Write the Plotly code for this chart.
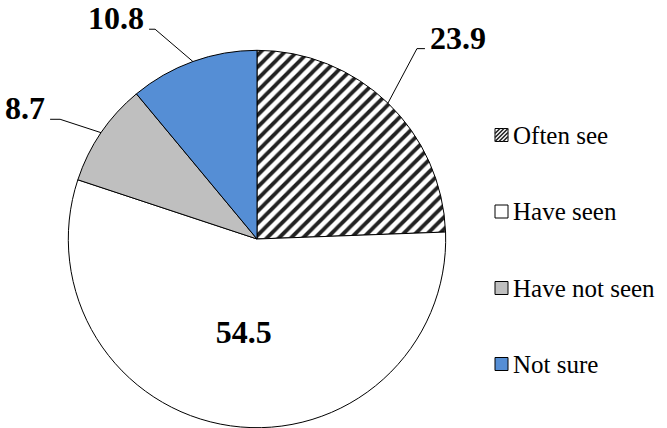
import math
import plotly.graph_objects as go

# ---- data ----
categories = ["Often see", "Have seen", "Have not seen", "Not sure"]
values = [23.9, 54.5, 8.7, 10.8]

# ---- style ----
colors = ["#ffffff", "#ffffff", "#bfbfbf", "#558ed5"]
patterns = ["/", "", "", ""]
FONT = "Times New Roman, Liberation Serif, DejaVu Serif, serif"

W, H = 667, 428
CX, CY, R = 257, 239, 188.7


def px(x):
    return x / W


def py(y):
    return 1 - y / H


fig = go.Figure(go.Pie(
    labels=categories, values=values, sort=False, direction="clockwise", rotation=0,
    marker=dict(colors=colors, line=dict(color="black", width=1),
                pattern=dict(shape=patterns, fgcolor="#222222", bgcolor="white",
                             size=8.5, solidity=0.45)),
    texttemplate=["", "<b>%{value}</b>", "", ""],
    textposition="inside", insidetextorientation="horizontal",
    textfont=dict(family=FONT, size=32, color="black"),
    domain=dict(x=[px(CX - R), px(CX + R)], y=[py(CY + R), py(CY - R)]),
    showlegend=False, hoverinfo="label+value",
))

# ---- outside labels with leader lines (positions derived from slice angles) ----
label_style = {
    "Often see": dict(elbow=(29, -54.5), seg=8, side="right"),
    "Have not seen": dict(elbow=(-41, -13.4), seg=10, side="left"),
    "Not sure": dict(elbow=(-37.8, -32.3), seg=6, side="left"),
}
total = sum(values)
cum = 0.0
shapes = []
annotations = []
for cat, v in zip(categories, values):
    mid = (cum + v / 2) / total * 2 * math.pi
    cum += v
    if cat not in label_style:
        continue
    st = label_style[cat]
    x0 = CX + R * math.sin(mid)
    y0 = CY - R * math.cos(mid)
    ex, ey = x0 + st["elbow"][0], y0 + st["elbow"][1]
    if st["side"] == "right":
        hx = ex + st["seg"]
        tx, anchor = hx + 3, "left"
    else:
        hx = ex - st["seg"]
        tx, anchor = hx - 3, "right"
    path = f"M{px(x0)},{py(y0)} L{px(ex)},{py(ey)} L{px(hx)},{py(ey)}"
    shapes.append(dict(type="path", xref="paper", yref="paper", path=path,
                       line=dict(color="black", width=1)))
    annotations.append(dict(x=px(tx), y=py(ey - 11), xref="paper", yref="paper",
                            text=f"<b>{v}</b>", showarrow=False, xanchor=anchor,
                            yanchor="middle",
                            font=dict(family=FONT, size=32, color="black")))

# ---- manual legend ----
leg_x0, leg_size, leg_text_x = 495, 13, 511
leg_y = [135, 211.5, 288, 364]
for cat, col, pat, yc in zip(categories, colors, patterns, leg_y):
    x0, x1 = leg_x0, leg_x0 + leg_size
    y0, y1 = yc - leg_size / 2, yc + leg_size / 2
    shapes.append(dict(type="rect", xref="paper", yref="paper",
                       x0=px(x0), x1=px(x1), y0=py(y1), y1=py(y0),
                       fillcolor=col, line=dict(color="black", width=1)))
    if pat == "/":
        for off in [-8, -4, 0, 4, 8]:
            ax0, ay0 = x0 + max(0, off), y1 - max(0, -off)
            ax1, ay1 = x1 - max(0, -off), y0 + max(0, off)
            shapes.append(dict(type="line", xref="paper", yref="paper",
                               x0=px(ax0), y0=py(ay0), x1=px(ax1), y1=py(ay1),
                               line=dict(color="#222222", width=1.6)))
    annotations.append(dict(x=px(leg_text_x), y=py(yc), xref="paper", yref="paper",
                            text=cat, showarrow=False, xanchor="left", yanchor="middle",
                            font=dict(family=FONT, size=25, color="black")))

fig.update_layout(
    width=W, height=H, margin=dict(l=0, r=0, t=0, b=0),
    paper_bgcolor="white", plot_bgcolor="white",
    shapes=shapes, annotations=annotations, showlegend=False,
)

fig.write_html("out.html", config={"displayModeBar": False},
               post_script="document.body.style.margin='0';")
